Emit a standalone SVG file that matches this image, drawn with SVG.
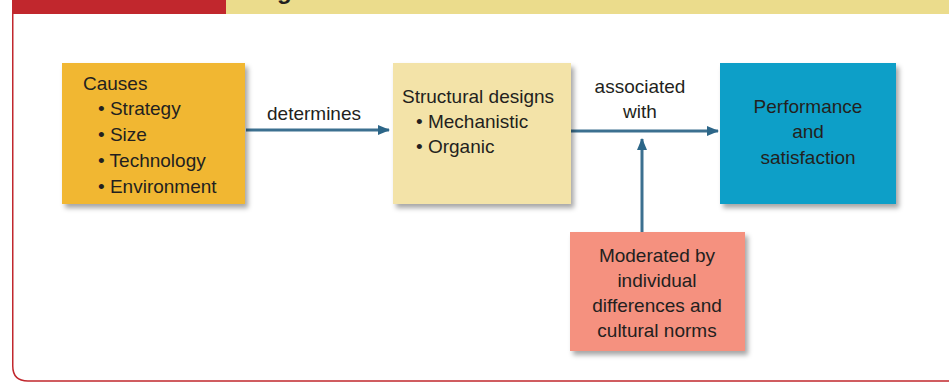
<svg xmlns="http://www.w3.org/2000/svg" width="949" height="382" viewBox="0 0 949 382">
<defs>
<style>
.t{font-family:"Liberation Sans",Arial,sans-serif;font-size:19px;fill:#231f20}
.c{text-anchor:middle}
.conn{stroke:#3c7090;stroke-width:3;fill:none}
</style>
<filter id="sh" x="-10%" y="-10%" width="125%" height="130%">
<feDropShadow dx="3" dy="4" stdDeviation="2.5" flood-color="#000" flood-opacity="0.35"/>
</filter>
<marker id="ah" viewBox="0 0 12 10" refX="11" refY="5" markerWidth="12" markerHeight="10" markerUnits="userSpaceOnUse" orient="auto">
<path d="M0,0 L12,5 L0,10 Z" fill="#2c6688"/>
</marker>
</defs>
<rect width="949" height="382" fill="#fff"/>
<rect x="12" y="0" width="214" height="14" fill="#c1272d"/>
<rect x="226" y="0" width="723" height="14" fill="#ebdc8c"/>
<text x="277" y="-1" style="font-family:'Liberation Sans',Arial,sans-serif;font-size:24px;font-weight:bold;fill:#231f20">g</text>
<path d="M12.75,14 V366 Q12.75,381 28,381 H949" fill="none" stroke="#c1272d" stroke-width="1.5"/>

<g id="connectors">
<line class="conn" x1="246" y1="130" x2="389" y2="130" marker-end="url(#ah)"/>
<line class="conn" x1="571" y1="131" x2="718" y2="131" marker-end="url(#ah)"/>
<line class="conn" x1="642" y1="232" x2="642" y2="139" marker-end="url(#ah)"/>
<text class="t c" x="314" y="120">determines</text>
<text class="t c" x="640" y="93">associated</text>
<text class="t c" x="640" y="118">with</text>
</g>

<g id="causes">
<rect x="62" y="63" width="183" height="141" fill="#f1b733" filter="url(#sh)"/>
<text class="t" x="83" y="90">Causes</text>
<text class="t" x="98" y="115">• Strategy</text>
<text class="t" x="98" y="141">• Size</text>
<text class="t" x="98" y="167">• Technology</text>
<text class="t" x="98" y="193">• Environment</text>
</g>

<g id="structural">
<rect x="393" y="63" width="178" height="141" fill="#f3e3a8" filter="url(#sh)"/>
<text class="t" x="402" y="103">Structural designs</text>
<text class="t" x="416" y="128">• Mechanistic</text>
<text class="t" x="416" y="153">• Organic</text>
</g>

<g id="performance">
<rect x="720" y="63" width="176" height="141" fill="#0c9fc8" filter="url(#sh)"/>
<text class="t c" x="808" y="113">Performance</text>
<text class="t c" x="808" y="138">and</text>
<text class="t c" x="808" y="164">satisfaction</text>
</g>

<g id="moderated">
<rect x="570" y="232" width="175" height="119" fill="#f5917f" filter="url(#sh)"/>
<text class="t c" x="657" y="262">Moderated by</text>
<text class="t c" x="657" y="287">individual</text>
<text class="t c" x="657" y="312">differences and</text>
<text class="t c" x="657" y="337">cultural norms</text>
</g>
</svg>
